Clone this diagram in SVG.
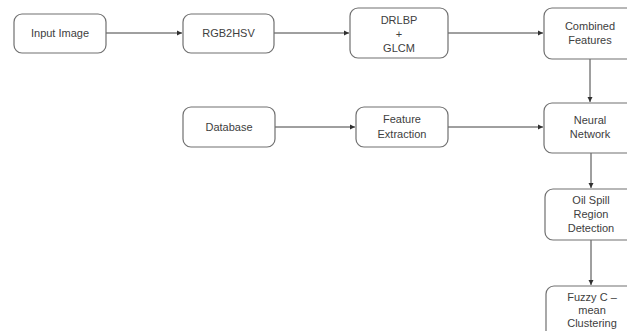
<svg xmlns="http://www.w3.org/2000/svg" width="627" height="331" viewBox="0 0 627 331">
<style>
.box{fill:#fff;stroke:#707070;stroke-width:1.2}
.lbl{font-family:"Liberation Sans",Arial,sans-serif;font-size:11px;fill:#404040;text-anchor:middle}
.con{stroke:#404040;stroke-width:1;fill:none;marker-end:url(#ah)}
</style>
<defs>
<marker id="ah" markerWidth="6" markerHeight="6" refX="5" refY="3" orient="auto" markerUnits="userSpaceOnUse">
<path d="M0,0.5 L5,3 L0,5.5 Z" fill="#303030"/>
</marker>
</defs>
<rect width="627" height="331" fill="#fff"/>
<g id="connectors">
<line class="con" x1="106" y1="33" x2="182" y2="33"/>
<line class="con" x1="274" y1="33" x2="349" y2="33"/>
<line class="con" x1="448" y1="33" x2="543" y2="33"/>
<line class="con" x1="590" y1="59" x2="590" y2="102"/>
<line class="con" x1="275" y1="127" x2="355" y2="127"/>
<line class="con" x1="448" y1="127" x2="543" y2="127"/>
<line class="con" x1="591" y1="153" x2="591" y2="188"/>
<line class="con" x1="591" y1="240" x2="591" y2="285"/>
</g>
<g id="input-image">
<rect class="box" x="14" y="14" width="92" height="39" rx="8"/>
<text class="lbl" x="60" y="37">Input Image</text>
</g>
<g id="rgb2hsv">
<rect class="box" x="183" y="14" width="91" height="39" rx="8"/>
<text class="lbl" x="228.5" y="37">RGB2HSV</text>
</g>
<g id="drlbp-glcm">
<rect class="box" x="350" y="8" width="98" height="50" rx="8"/>
<text class="lbl" x="399" y="24">DRLBP</text>
<text class="lbl" x="399" y="38">+</text>
<text class="lbl" x="399" y="52">GLCM</text>
</g>
<g id="combined-features">
<rect class="box" x="544" y="8" width="92" height="51" rx="8"/>
<text class="lbl" x="590" y="30">Combined</text>
<text class="lbl" x="590" y="44">Features</text>
</g>
<g id="database">
<rect class="box" x="183" y="107" width="92" height="40" rx="8"/>
<text class="lbl" x="229" y="131">Database</text>
</g>
<g id="feature-extraction">
<rect class="box" x="356" y="107" width="92" height="40" rx="8"/>
<text class="lbl" x="402" y="123">Feature</text>
<text class="lbl" x="402" y="138">Extraction</text>
</g>
<g id="neural-network">
<rect class="box" x="544" y="103" width="92" height="50" rx="8"/>
<text class="lbl" x="590" y="124">Neural</text>
<text class="lbl" x="590" y="138">Network</text>
</g>
<g id="oil-spill">
<rect class="box" x="545" y="189" width="92" height="51" rx="8"/>
<text class="lbl" x="591" y="204">Oil Spill</text>
<text class="lbl" x="591" y="218">Region</text>
<text class="lbl" x="591" y="232">Detection</text>
</g>
<g id="fuzzy">
<rect class="box" x="546" y="286" width="92" height="60" rx="8"/>
<text class="lbl" x="592" y="301">Fuzzy C –</text>
<text class="lbl" x="592" y="314">mean</text>
<text class="lbl" x="592" y="327">Clustering</text>
</g>
</svg>
